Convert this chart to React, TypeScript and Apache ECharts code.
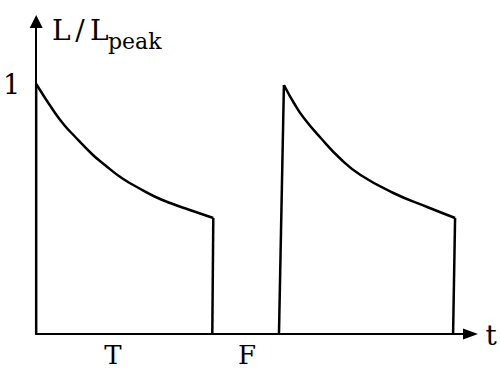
import React, { useEffect, useRef } from "react";
import * as echarts from "echarts";

// pulse 1 (duration T): time and normalised luminance L/Lpeak
const pulse1T = [0, 0.435, 0.664, 0.825, 1.283, 1.581, 1.97, 2.36, 2.726, 3.116, 3.505, 4.078];
const pulse1L = [1.0, 0.884, 0.832, 0.802, 0.72, 0.676, 0.624, 0.584, 0.55, 0.522, 0.498, 0.464];
// pulse 2
const pulse2T = [5.704, 5.934, 6.163, 6.552, 7.01, 7.468, 8.224, 9.003, 9.645];
const pulse2L = [0.996, 0.924, 0.864, 0.784, 0.7, 0.636, 0.564, 0.508, 0.464];
// vertical edges [t0, L0, t1, L1]
const edges = [
  [0, 0, 0, 1.0],
  [4.078, 0.464, 4.055, 0],
  [5.59, 0, 5.704, 0.996],
  [9.645, 0.464, 9.599, 0],
];
const yTickLabels = ["1"];
const yTickValues = [1];
const xMax = 10;
const yMax = 1.25;

const FONT = "DejaVu Serif";

export default function App() {
  const ref = useRef<HTMLDivElement>(null);
  useEffect(() => {
    if (!ref.current) return;
    const chart = echarts.init(ref.current, undefined, { renderer: "svg" });
    const lineStyle = { color: "#000", width: 2.5 };
    const series: any[] = [
      {
        type: "line",
        data: pulse1T.map((t, i) => [t, pulse1L[i]]),
        smooth: 0.5,
        symbol: "none",
        lineStyle,
      },
      {
        type: "line",
        data: pulse2T.map((t, i) => [t, pulse2L[i]]),
        smooth: 0.5,
        symbol: "none",
        lineStyle,
      },
      ...edges.map((e) => ({
        type: "line",
        data: [
          [e[0], e[1]],
          [e[2], e[3]],
        ],
        symbol: "none",
        lineStyle,
      })),
    ];
    const txt = (text: string, x: number, y: number, size: number, align = "left") => ({
      type: "text",
      x,
      y,
      style: {
        text,
        font: `${size}px '${FONT}'`,
        fill: "#000",
        align,
        verticalAlign: "middle",
      },
    });
    chart.setOption({
      animation: false,
      backgroundColor: "#fff",
      grid: { left: 34, right: 30.5, top: 21.5, bottom: 35 },
      xAxis: {
        type: "value",
        min: 0,
        max: xMax,
        axisLine: {
          show: true,
          symbol: ["none", "triangle"],
          symbolSize: [11, 15],
          lineStyle: { color: "#000", width: 2 },
        },
        axisTick: { show: false },
        axisLabel: { show: false },
        splitLine: { show: false },
      },
      yAxis: {
        type: "value",
        min: 0,
        max: yMax,
        interval: 0.25,
        axisLine: {
          show: true,
          symbol: ["none", "triangle"],
          symbolSize: [13, 13],
          lineStyle: { color: "#000", width: 2 },
        },
        axisTick: { show: false },
        splitLine: { show: false },
        axisLabel: {
          margin: 16,
          fontFamily: FONT,
          fontSize: 27,
          color: "#000",
          formatter: (v: number) => {
            const i = yTickValues.indexOf(v);
            return i >= 0 ? yTickLabels[i] : "";
          },
        },
      },
      graphic: [
        txt("L", 52, 30, 28),
        txt("/", 80, 30, 28, "center"),
        txt("L", 90, 30, 28),
        txt("peak", 108, 41, 22),
        txt("t", 491, 335, 28, "center"),
        txt("T", 113, 355, 26, "center"),
        txt("F", 247, 355, 26, "center"),
      ],
      series,
    });
    return () => chart.dispose();
  }, []);
  return (
    <div
      ref={ref}
      style={{ position: "fixed", left: 0, top: 0, width: 501, height: 369 }}
    />
  );
}
